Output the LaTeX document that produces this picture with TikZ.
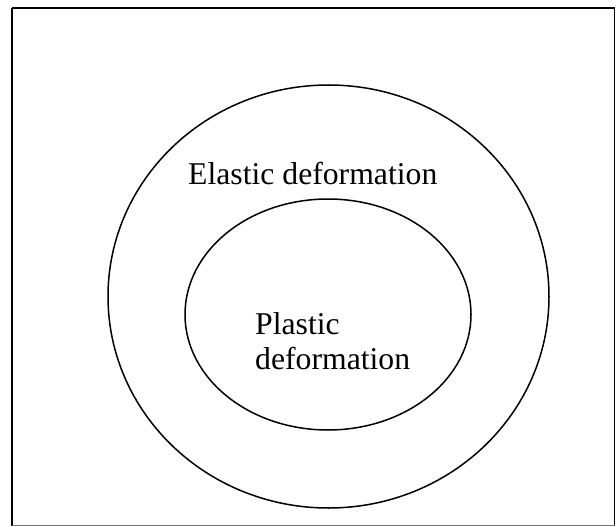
\documentclass[tikz,border=0pt]{standalone}
\usepackage{fontspec}
\setmainfont{Liberation Serif}
\begin{document}
\begin{tikzpicture}[x=1pt,y=-1pt,
  ring/.style={line width=1.5pt,draw=black},
  frameline/.style={line width=1.4pt,draw=black},
  lbl/.style={inner sep=0pt,anchor=base west,font=\fontsize{31.7}{36}\selectfont}]
\useasboundingbox (0,0) rectangle (616,527);
\draw[frameline] (12,8) -- (614.5,8) -- (614.5,525.5);
\draw[frameline] (12,8) -- (12,525.5);
\draw[line width=1.4pt,draw=black!55] (12,525.5) -- (614.5,525.5);
\draw[ring] (328.5,296.5) ellipse [x radius=220.5pt, y radius=211.5pt];
\draw[ring] (328,314.5) ellipse [x radius=143pt, y radius=115.5pt];
\node[lbl] (elastic) at (188,184) {Elastic deformation};
\node[lbl] (plastic1) at (255,334) {Plastic};
\node[lbl] (plastic2) at (255,369.5) {deformation};
\end{tikzpicture}
\end{document}
